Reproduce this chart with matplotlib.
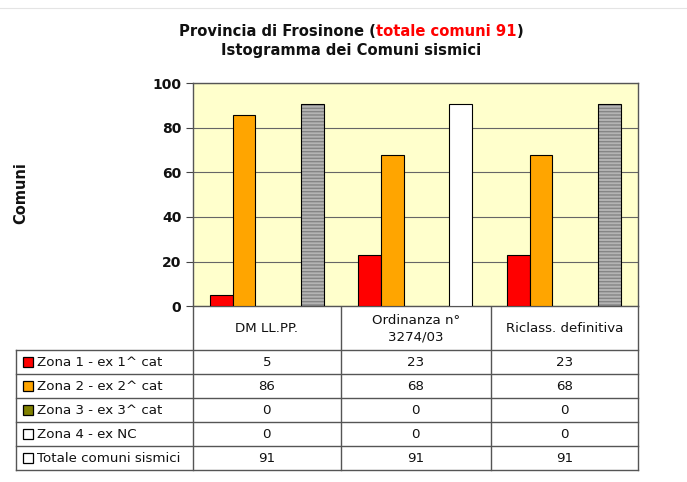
import matplotlib
matplotlib.use("Agg")
import matplotlib.pyplot as plt
from matplotlib.patches import Rectangle

plt.rcParams["font.family"] = ["DejaVu Sans"]

# ── Data ──────────────────────────────────────────────────────────────────────
groups = ["DM LL.PP.", "Ordinanza n°\n3274/03", "Riclass. definitiva"]
series = ["Zona 1 - ex 1^ cat", "Zona 2 - ex 2^ cat", "Zona 3 - ex 3^ cat",
          "Zona 4 - ex NC", "Totale comuni sismici"]
zona1 = [5, 23, 23]
zona2 = [86, 68, 68]
zona3 = [0, 0, 0]
zona4 = [0, 0, 0]
totale = [91, 91, 91]
values = [zona1, zona2, zona3, zona4, totale]
yticks = [0, 20, 40, 60, 80, 100]

colors = ["#FF0000", "#FFA500", "#808000", "#FFFFFF", "#A8A8A8"]
# the total bar is hatched grey except for the middle group
totale_hatched = [True, False, True]

# ── Canvas (pixel layout) ────────────────────────────────────────────────────
W, H = 687, 482
fig = plt.figure(figsize=(W / 100, H / 100), dpi=100, facecolor="white")

# overlay in pixel coordinates for title / table
ov = fig.add_axes([0, 0, 1, 1])
ov.set_xlim(0, W)
ov.set_ylim(H, 0)
ov.axis("off")
ov.plot([0, W], [8, 8], color="#E4E4E4", lw=0.8)

PL, PR, PT, PB = 192.5, 638, 83.5, 306
ax = fig.add_axes([PL / W, 1 - PB / H, (PR - PL) / W, (PB - PT) / H])
ax.set_facecolor("#FFFFCC")
ax.set_xlim(0, 3)
ax.set_ylim(0, 100)
ax.set_yticks(yticks)
ax.set_yticklabels([str(t) for t in yticks], fontsize=10, fontweight="bold",
                   color="#111111")
ax.set_xticks([])
ax.tick_params(axis="y", length=5, width=0.8, color="#444444", pad=3)
ax.grid(axis="y", color="#666666", lw=0.8)
ax.set_axisbelow(True)
for s in ax.spines.values():
    s.set_color("#555555")
    s.set_linewidth(1.0)

bw = 0.153
for k, vals in enumerate(values):
    xs = [i + 0.5 + (k - 2) * bw for i in range(len(groups))]
    for i, (x, v) in enumerate(zip(xs, vals)):
        if v == 0:
            continue
        if k == 4 and totale_hatched[i]:
            ax.bar(x, v, bw, color="#B4B4B4", edgecolor="#858585",
                   hatch="-----", linewidth=0, zorder=2)
            ax.bar(x, v, bw, fill=False, edgecolor="black", lw=0.8, zorder=3)
        else:
            c = "#FFFFFF" if k == 4 else colors[k]
            ax.bar(x, v, bw, color=c, edgecolor="black", lw=0.8, zorder=3)

# ── Title & axis label ───────────────────────────────────────────────────────
t_kw = dict(fontsize=10.6, fontweight="bold", va="center")
p1 = "Provincia di Frosinone ("
p2 = "totale comuni 91"
p3 = ")"
t1 = ov.text(0, 31, p1, color="#111111", **t_kw)
t2 = ov.text(0, 31, p2, color="#FF0000", **t_kw)
t3 = ov.text(0, 31, p3, color="#111111", **t_kw)
fig.canvas.draw()
r = fig.canvas.get_renderer()
ws = [t.get_window_extent(r).width for t in (t1, t2, t3)]
x0 = 351.5 - sum(ws) / 2
t1.set_x(x0)
t2.set_x(x0 + ws[0])
t3.set_x(x0 + ws[0] + ws[1])
ov.text(351, 50, "Istogramma dei Comuni sismici", ha="center",
        color="#111111", **t_kw)

ov.text(21, 193, "Comuni", rotation=90, ha="center", va="center",
        fontsize=10.5, fontweight="bold", color="#111111")

# ── Data table ───────────────────────────────────────────────────────────────
LC = "#555555"
cols = [PL, 341, 490.5, PR]
TL = 16
row_top = 350
rh = 24
n_rows = len(series)
bottom = row_top + rh * n_rows
fs = 9.6

# header cells
for xc in cols:
    ov.plot([xc, xc], [PB, bottom], color=LC, lw=1.0)
for i, g in enumerate(groups):
    ov.text((cols[i] + cols[i + 1]) / 2, (PB + row_top) / 2 + 1, g,
            ha="center", va="center", fontsize=fs, color="#111111",
            linespacing=1.4)

ov.plot([TL, TL], [row_top, bottom], color=LC, lw=1.0)
for j in range(n_rows + 1):
    yy = row_top + j * rh
    ov.plot([TL, PR], [yy, yy], color=LC, lw=1.0)

key_cols = colors[:4] + ["#FFFFFF"]
for j, name in enumerate(series):
    yc = row_top + j * rh + rh / 2
    ov.add_patch(Rectangle((23, yc - 5), 10, 10, facecolor=key_cols[j],
                           edgecolor="black", lw=0.9))
    ov.text(37, yc, name, ha="left", va="center", fontsize=fs,
            color="#111111")
    for i in range(len(groups)):
        ov.text((cols[i] + cols[i + 1]) / 2, yc, str(values[j][i]),
                ha="center", va="center", fontsize=fs, color="#111111")

fig.savefig("out.png", dpi=100, facecolor="white")
